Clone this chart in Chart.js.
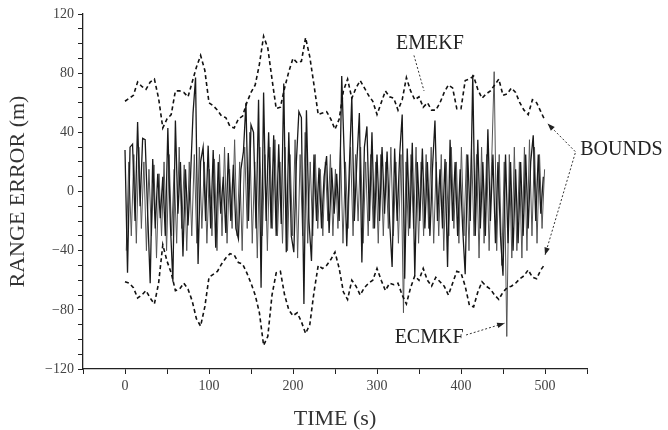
<!DOCTYPE html>
<html>
<head>
<meta charset="utf-8">
<script src="https://cdn.jsdelivr.net/npm/chart.js@4.4.1/dist/chart.umd.min.js"></script>
<style>
  html, body { margin: 0; padding: 0; background: #fff; }
  #wrap { width: 668px; height: 430px; }
</style>
</head>
<body>
<div id="wrap"><canvas id="rangeErr"></canvas></div>
<script>
// bounds, sampled every 5 s (0..500)
var boundStep = 5;
var upperBound = [61,63,65,74,71,69,74,76,63,43,49,52,68,68,67,64,74,84,92,82,
  60,58,55,51,50,44,43,49,51,60,67,72,86,105,97,76,56,57,70,81,
  90,87,88,104,91,72,52,53,54,49,42,49,68,76,63,70,75,70,65,61,
  52,60,68,64,63,55,62,77,68,62,64,57,60,55,55,60,67,72,70,56,
  56,75,76,78,69,63,66,68,72,76,65,66,70,67,60,55,52,62,60,54,48];
var lowerBound = [-61,-62,-65,-72,-70,-67,-72,-76,-62,-36,-47,-55,-67,-66,-62,-66,-74,-86,-91,-78,
  -58,-56,-54,-49,-45,-42,-43,-48,-49,-55,-62,-70,-82,-104,-98,-70,-55,-54,-70,-80,
  -84,-82,-88,-96,-90,-68,-50,-52,-50,-46,-41,-52,-68,-73,-60,-64,-70,-65,-62,-60,
  -52,-60,-67,-62,-63,-62,-70,-76,-65,-57,-60,-52,-60,-64,-58,-61,-64,-70,-62,-54,
  -55,-64,-77,-78,-68,-61,-64,-66,-70,-73,-68,-65,-64,-62,-59,-57,-53,-58,-59,-53,-49];

// range error of the two filters, sampled every 3 s
var noiseStep = 3;
var emekf = [28,-55,30,32,-20,47,-10,36,35,-15,-62,22,-25,12,-18,10,-30,43,-22,-61,
  48,-15,20,-44,15,-23,10,53,77,-49,20,30,-20,31,-25,28,-38,20,-15,10,
  -28,26,-20,18,-25,-32,15,27,60,-20,45,40,-25,62,-65,67,-20,40,-25,38,
  -30,32,-22,73,-41,40,-30,-41,20,54,50,-76,55,-20,-47,25,-20,16,-25,10,
  24,-28,16,-15,12,-20,78,24,-37,15,64,-20,20,53,-48,30,44,-20,40,-25,
  25,-20,30,-15,27,-20,-51,29,-20,25,52,-59,29,-25,33,-57,20,-20,29,-25,
  20,-30,15,48,-20,15,-25,22,-51,35,-20,20,-30,15,-25,-56,25,-20,79,-30,
  35,-25,20,-30,42,-20,25,-35,20,-30,-57,25,-35,20,-40,15,-35,20,-30,25,
  -25,20,38,-20,25,-15,10];
var ecmkf = [-40,20,-30,25,-35,30,-25,20,-40,15,-30,18,-45,12,-30,20,-40,25,-30,15,
  -35,30,-25,18,-40,20,-30,25,-35,30,-25,20,-35,15,-30,22,-40,25,-30,30,
  -35,15,-25,35,-30,20,-40,30,-25,40,-35,20,-45,30,-30,25,-40,30,-25,35,
  -30,20,-35,30,-40,25,-30,35,-45,25,-30,40,-35,20,-30,25,-25,15,-30,20,
  -20,25,-30,15,-25,30,-35,20,-25,30,-30,25,-20,30,-35,20,-30,25,-25,20,
  -35,25,-30,20,-25,30,-30,20,-35,25,-82,20,-30,25,-25,30,-35,20,-30,25,
  -25,30,-35,20,-30,25,-40,20,-30,30,-25,20,-35,30,-30,25,-40,30,-30,25,
  -45,30,-35,25,-40,20,81,-40,25,-50,20,-98,25,-45,30,-40,20,-45,30,-40,
  35,-30,30,-35,25,-25,15];

var xTicks = [0, 100, 200, 300, 400, 500];
var yTicks = [-120, -80, -40, 0, 40, 80, 120];

function toPoints(vals, step, offset) {
  return vals.map(function (v, i) { return { x: offset + i * step, y: v }; });
}

// text labels with dotted leader arrows, placed in data units
var notes = [
  { text: 'EMEKF', x: 363, y: 100, align: 'center', from: [344, 92], to: [356, 68], head: false },
  { text: 'BOUNDS', x: 542, y: 28, align: 'left', from: [536, 27], to: [503, 46], head: true },
  { text: '', x: 0, y: 0, align: 'left', from: [536, 26], to: [500, -43], head: true },
  { text: 'ECMKF', x: 362, y: -99, align: 'center', from: [406, -97], to: [452, -89], head: true }
];

var notePlugin = {
  id: 'notes',
  afterDatasetsDraw: function (chart) {
    var ctx = chart.ctx, sx = chart.scales.x, sy = chart.scales.y;
    ctx.save();
    notes.forEach(function (n) {
      var x1 = sx.getPixelForValue(n.from[0]), y1 = sy.getPixelForValue(n.from[1]);
      var x2 = sx.getPixelForValue(n.to[0]), y2 = sy.getPixelForValue(n.to[1]);
      ctx.strokeStyle = '#333';
      ctx.lineWidth = 1;
      ctx.setLineDash([2, 2]);
      ctx.beginPath(); ctx.moveTo(x1, y1); ctx.lineTo(x2, y2); ctx.stroke();
      ctx.setLineDash([]);
      if (n.head) {
        var a = Math.atan2(y2 - y1, x2 - x1);
        ctx.fillStyle = '#222';
        ctx.beginPath();
        ctx.moveTo(x2, y2);
        ctx.lineTo(x2 - 8 * Math.cos(a - 0.35), y2 - 8 * Math.sin(a - 0.35));
        ctx.lineTo(x2 - 8 * Math.cos(a + 0.35), y2 - 8 * Math.sin(a + 0.35));
        ctx.closePath(); ctx.fill();
      }
      if (n.text) {
        ctx.fillStyle = '#222';
        ctx.font = '20px "Liberation Serif"';
        ctx.textAlign = n.align;
        ctx.textBaseline = 'middle';
        ctx.fillText(n.text, sx.getPixelForValue(n.x), sy.getPixelForValue(n.y));
      }
    });
    ctx.restore();
  }
};

var tickFont = { family: 'Liberation Serif', size: 14 };
var titleFont = { family: 'Liberation Serif', size: 22, lineHeight: 1 };

new Chart(document.getElementById('rangeErr'), {
  type: 'line',
  data: {
    datasets: [
      { label: 'upper bound', data: toPoints(upperBound, boundStep, 0), borderColor: '#111',
        borderWidth: 1.6, borderDash: [4, 3], pointRadius: 0, tension: 0 },
      { label: 'lower bound', data: toPoints(lowerBound, boundStep, 0), borderColor: '#111',
        borderWidth: 1.6, borderDash: [4, 3], pointRadius: 0, tension: 0 },
      { label: 'EMEKF', data: toPoints(emekf, noiseStep, 0), borderColor: '#1a1a1a',
        borderWidth: 1.3, pointRadius: 0, tension: 0 },
      { label: 'ECMKF', data: toPoints(ecmkf, noiseStep, 1.5), borderColor: '#555',
        borderWidth: 1, pointRadius: 0, tension: 0 }
    ]
  },
  options: {
    responsive: true,
    maintainAspectRatio: false,
    animation: false,
    layout: { padding: { top: 14, right: 81, bottom: 0, left: 0 } },
    plugins: { legend: { display: false }, tooltip: { enabled: false } },
    scales: {
      x: {
        type: 'linear', min: -50, max: 550,
        afterFit: function (s) { s.height = 61; },
        border: { display: true, color: '#222', width: 1.3 },
        grid: { drawOnChartArea: false, drawTicks: true, tickLength: 5, color: '#222' },
        ticks: {
          stepSize: 50, color: '#444', font: tickFont, padding: 4, maxRotation: 0, autoSkip: false,
          callback: function (v) { return xTicks.indexOf(v) >= 0 ? String(v) : ''; }
        },
        title: { display: true, text: 'TIME (s)', color: '#333', font: titleFont, padding: { top: 0, bottom: 0 } }
      },
      y: {
        min: -120, max: 120,
        afterFit: function (s) { s.width = 83; },
        border: { display: true, color: '#222', width: 1.3 },
        grid: { drawOnChartArea: false, drawTicks: true, tickLength: 5, color: '#222' },
        ticks: {
          stepSize: 10, color: '#444', font: tickFont, padding: 4, autoSkip: false,
          callback: function (v) { return yTicks.indexOf(v) >= 0 ? String(v).replace('-', '\u2212') : ''; }
        },
        title: { display: true, text: 'RANGE ERROR (m)', color: '#333', font: titleFont, padding: { top: 7, bottom: 0 } }
      }
    }
  },
  plugins: [notePlugin]
});
</script>
</body>
</html>
